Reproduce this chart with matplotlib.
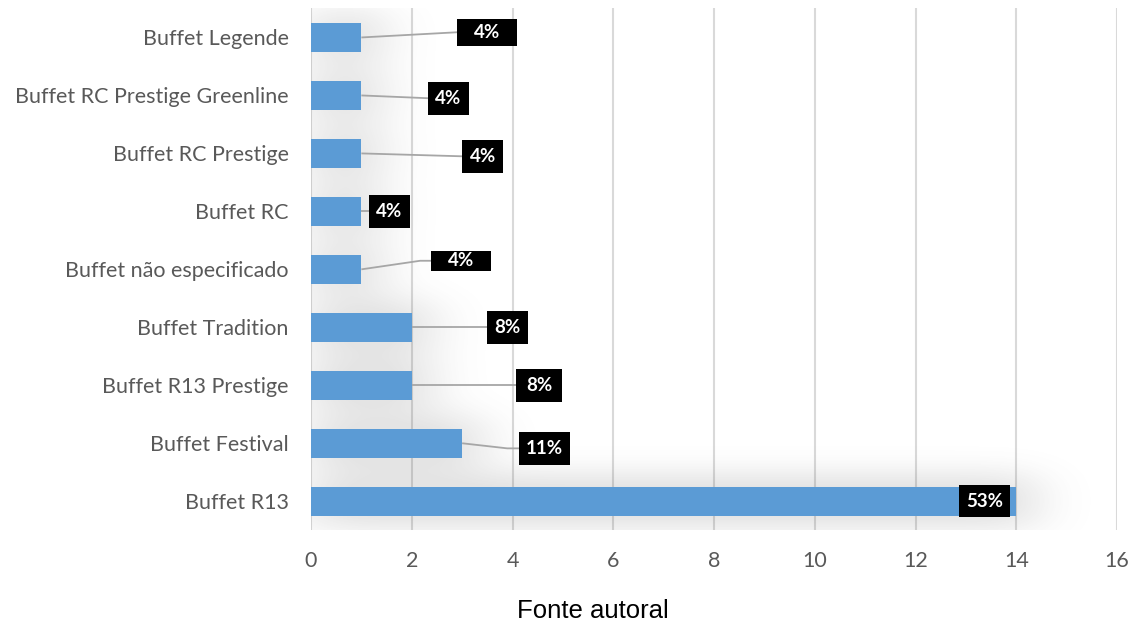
import matplotlib
matplotlib.use('Agg')
import matplotlib.pyplot as plt
import numpy as np
from matplotlib.patches import Rectangle

# data (bottom to top)
categorias = ['Buffet R13', 'Buffet Festival', 'Buffet R13 Prestige', 'Buffet Tradition',
              'Buffet não especificado', 'Buffet RC', 'Buffet RC Prestige',
              'Buffet RC Prestige Greenline', 'Buffet Legende']
valores = [14, 3, 2, 2, 1, 1, 1, 1, 1]
rotulos = ['53%', '11%', '8%', '8%', '4%', '4%', '4%', '4%', '4%']

# percent box placement: centre x (data), y shift (slots), box w/h (px), elbow gap (px)
lab_x = [13.37, 4.64, 4.53, 3.90, 2.98, 1.56, 3.41, 2.73, 3.50]
lab_dy = [0.0, -0.088, 0.0, 0.0, 0.148, 0.0, -0.05, -0.048, 0.09]
box_w = [51, 51, 46, 41, 60, 41, 41, 41, 60]
box_h = [32, 32.7, 32.7, 32.7, 19.7, 32.7, 32.7, 32.7, 26.7]
elbow = [0, 12, 0, 0, 11, 0, 0, 0, 0]

plt.rcParams['font.family'] = ['Lato', 'DejaVu Sans']

fig = plt.figure(figsize=(11.35, 6.28), dpi=100)
ax = fig.add_axes([0.274, 0.1557, 0.7102, 0.8308])

px_x = 16 / (0.7102 * 1135)      # data units per pixel, x
px_y = 9 / (0.8308 * 628)        # slots per pixel, y

y = np.arange(len(categorias))
h = 0.5

# soft grey shadow under the bars (blurred mask)
nx, ny = 800, 520
gx = np.linspace(0, 16, nx)
gy = np.linspace(-0.5, 8.5, ny)
X, Y = np.meshgrid(gx, gy)
mask = np.zeros((ny, nx))
for i, v in enumerate(valores):
    mask[(np.abs(Y - i) <= 0.45) & (X <= v + 0.35)] = 1.0
def blur(a, s, axis):
    k = np.arange(-3 * s, 3 * s + 1)
    k = np.exp(-k ** 2 / (2.0 * s * s))
    k /= k.sum()
    return np.apply_along_axis(lambda r: np.convolve(r, k, mode='same'), axis, a)
sh = blur(blur(mask, 28, 1), 14, 0)
rgba = np.zeros((ny, nx, 4))
rgba[..., :3] = 0.35
rgba[..., 3] = np.clip(sh * 1.2, 0, 1) * 0.16
ax.imshow(rgba, extent=(0, 16, -0.5, 8.5), origin='lower', aspect='auto',
          interpolation='bilinear', zorder=1)

ax.barh(y, valores, height=h, color='#5b9bd5', zorder=3)

for i in range(len(valores)):
    cx = lab_x[i]
    cy = i + lab_dy[i]
    w = box_w[i] * px_x
    bh = box_h[i] * px_y
    left = cx - w / 2
    if left > valores[i]:
        xs = [valores[i], left - elbow[i] * px_x, left]
        ys = [i, cy, cy]
        ax.plot(xs, ys, color='#a6a6a6', lw=1.3, zorder=4, solid_capstyle='butt')
    ax.add_patch(Rectangle((left, cy - bh / 2), w, bh, color='black', lw=0, zorder=5))
    ax.text(cx, cy, rotulos[i], ha='center', va='center', color='white',
            fontsize=13.5, fontweight='bold', zorder=6)

ax.set_xlim(0, 16)
ax.set_ylim(-0.5, len(categorias) - 0.5)
ax.set_xticks(range(0, 17, 2))
ax.set_yticks(y)
ax.set_yticklabels(categorias)
ax.grid(axis='x', color='#d9d9d9', lw=1.5, zorder=0)
ax.set_axisbelow(True)
for s in ax.spines.values():
    s.set_visible(False)
ax.tick_params(length=0, colors='#595959', labelsize=15.5)
ax.tick_params(axis='y', pad=16)
ax.tick_params(axis='x', pad=15)

fig.text(0.5225, 0.027, 'Fonte autoral', ha='center', va='center', fontsize=18.5,
         family='Liberation Sans', color='black')

plt.savefig('out.png', dpi=100)
